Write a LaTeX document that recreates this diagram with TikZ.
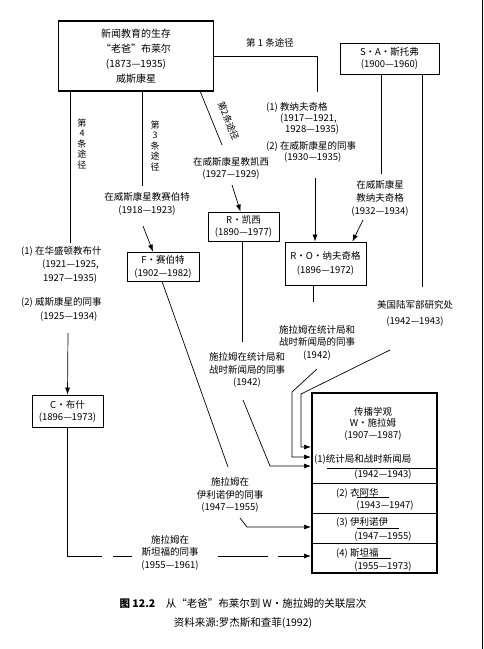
\documentclass[tikz,border=0pt]{standalone}
\usepackage{fontspec}
\setmainfont{Noto Sans CJK SC}
\usetikzlibrary{arrows.meta}

\begin{document}
\begin{tikzpicture}[x=1pt,y=1pt,yscale=-1,xscale=1,
  every node/.style={inner sep=0pt, font=\fontsize{9.5}{12.5}\selectfont},
  box/.style={draw, line width=0.8pt, align=center},
  heavybox/.style={draw, line width=1.8pt, align=center},
  lbl/.style={align=center},
  upright/.style={align=center, font=\fontsize{9}{10.5}\selectfont},
  line/.style={line width=0.7pt},
  arr/.style={-{Latex[length=7pt,width=5pt]}}]
\useasboundingbox (0,0) rectangle (484,649);

%Shape: Rectangle [Bleyer]
\node (bleyer) [heavybox, minimum width=155pt, minimum height=70pt, font=\fontsize{10}{15}\selectfont] at (136,56) {新闻教育的生存\\“老爸”布莱尔\\(1873—1935)\\威斯康星};
%Shape: Rectangle [Stouffer]
\node (stouffer) [box, minimum width=99pt, minimum height=31pt, font=\fontsize{9.5}{11.5}\selectfont] at (389.5,58.5) {S·A·斯托弗\\(1900—1960)};
%Shape: Rectangle [Casey]
\node (casey) [box, minimum width=71pt, minimum height=29pt, font=\fontsize{9.5}{12}\selectfont] at (243.5,226.5) {R·凯西\\(1890—1977)};
%Shape: Rectangle [Siebert]
\node (siebert) [box, minimum width=72pt, minimum height=29pt, font=\fontsize{9.5}{13}\selectfont] at (163,266.5) {F·赛伯特\\(1902—1982)};
%Shape: Rectangle [Nafziger]
\node (nafziger) [box, minimum width=81pt, minimum height=43pt, font=\fontsize{9.5}{14}\selectfont] at (325.5,263.5) {R·O·纳夫奇格\\(1896—1972)};
%Shape: Rectangle [Bush]
\node (bush) [box, minimum width=71pt, minimum height=32pt, font=\fontsize{9.5}{12}\selectfont] at (67.5,411) {C·布什\\(1896—1973)};

%Shape: Rectangle [Schramm]
\node (schramm) [heavybox, minimum width=125pt, minimum height=180pt] at (374.5,483) {};
% Text Node
\node (head) [lbl, font=\fontsize{9.5}{11.5}\selectfont] at (373,423.5) {传播学观\\W·施拉姆\\(1907—1987)};
% Text Node
\node (row1) [anchor=west] at (314,459) {(1)统计局和战时新闻局};
\node (row1y) at (383,475) {(1942—1943)};
\node (row2) [anchor=west] at (336,493) {(2) 衣阿华};
\node (row2y) at (385,506) {(1943—1947)};
\node (row3) [anchor=west] at (336,522) {(3) 伊利诺伊};
\node (row3y) at (383,537) {(1947—1955)};
\node (row4) [anchor=west] at (336,553) {(4) 斯坦福};
\node (row4y) at (383,567) {(1955—1973)};
%Straight Lines [dividers and underlines]
\foreach \yy in {483,513,543}
  \draw [line] (schramm.west |- 0,\yy) -- (schramm.east |- 0,\yy);
\draw [line] (327,468) -- (schramm.east |- 0,468);
\draw [line] (357,497) -- (389,497);
\draw [line] (357,528) -- (399,528);
\draw [line] (357,558) -- (391,558);
% arrow ends on the Schramm box
\coordinate (in1) at (311,447);
\coordinate (in2) at (311,457);
\coordinate (in3) at (311,466);
\coordinate (in4) at (311,527);
\coordinate (in5) at (311,556);

%Straight Lines [route 1]
\coordinate (r1end) at (317,92);
\draw [line] (bleyer.east) -| (r1end);
% Text Node
\node (r1lbl) at (270,43) {第 1 条途径};
% Text Node
\node (knapp) [anchor=north west, align=left, font=\fontsize{9.5}{11}\selectfont] at (266,102) {(1)\ 教纳夫奇格\\\hspace*{14pt}(1917—1921,\\\hspace*{19pt}1928—1935)\\[6pt](2)\ 在威斯康星的同事\\\hspace*{18pt}(1930—1935)};
\coordinate (k2) at (315,178);
\draw [line,arr] (k2) -- (nafziger.north -| k2);

%Straight Lines [route 2]
\coordinate (r2end) at (222,145);
\draw [line] ([xshift=-14pt]bleyer.south east) -- (r2end);
% Text Node
\node (r2lbl) [rotate=-68, font=\fontsize{9}{10}\selectfont] at (228.5,121) {第2条途径};
% Text Node
\node (caseytxt) [lbl] at (231,168.5) {在威斯康星教凯西\\(1927—1929)};
\coordinate (c2) at (232,185);
\draw [line,arr] (c2) -- ([xshift=-3pt]casey.north);

%Straight Lines [route 3]
\coordinate (r3end) at (142,186);
\draw [line] (bleyer.south -| r3end) -- (r3end);
% Text Node
\node (r3lbl) [upright] at (155,146) {第\\3\\条\\途\\径};
% Text Node
\node (siebtxt) [lbl] at (147,204) {在威斯康星教赛伯特\\(1918—1923)};
\coordinate (s2) at (143,226);
\draw [line,arr] (s2) -- ([xshift=-10pt]siebert.north);

%Straight Lines [route 4]
\coordinate (r4end) at (70,243);
\draw [line] (bleyer.south -| r4end) -- (r4end);
% Text Node
\node (r4lbl) [upright] at (82,144) {第\\4\\条\\途\\径};
% Text Node
\node (bushtxt) [anchor=north west, align=left, font=\fontsize{9.5}{13.5}\selectfont] at (21,246) {(1)\ 在华盛顿教布什\\\hspace*{21pt}(1921—1925,\\\hspace*{22pt}1927—1935)\\[11pt](2)\ 威斯康星的同事\\\hspace*{19pt}(1925—1934)};
\coordinate (b2) at (68,333);
\draw [line,arr] (b2) -- (bush.north);

%Straight Lines [Stouffer]
\coordinate (st1) at (381,174);
\draw [line] (stouffer.south -| st1) -- (st1);
% Text Node
\node (stnaf) [lbl, font=\fontsize{9.5}{13}\selectfont] at (380,198) {在威斯康星\\教纳夫奇格\\(1932—1934)};
\coordinate (st2) at (363,220);
\draw [line,arr] (st2) -- ([xshift=-14pt]nafziger.north east);
\coordinate (st3) at (422,287);
\draw [line] (stouffer.south -| st3) -- (st3);
% Text Node
\node (army) [lbl, font=\fontsize{9.5}{16.5}\selectfont] at (415,313.5) {美国陆军部研究处\\(1942—1943)};
\coordinate (armyout) at (390,350);
\draw [line,arr] (armyout) -- (301,394) |- (in1);

%Straight Lines [Casey]
\coordinate (ca1) at (242,342);
\draw [line] (casey.south -| ca1) -- (ca1);
% Text Node
\node (txtB) [lbl] at (247,370) {施拉姆在统计局和\\战时新闻局的同事\\(1942)};
\coordinate (Bout) at (243,400);
\draw [line,arr] (Bout) -- (270,466) -- (in3);

%Straight Lines [Nafziger]
\coordinate (n1) at (313,302);
\draw [line] (nafziger.south -| n1) -- (n1);
% Text Node
\node (txtA) [lbl] at (317,342.5) {施拉姆在统计局和\\战时新闻局的同事\\(1942)};
\coordinate (Aout) at (317,369);
\draw [line,arr] (Aout) -- (292,392) |- (in2);

%Straight Lines [Siebert]
\coordinate (sb1) at (228,467);
\draw [line] ([xshift=-1pt]siebert.south) -- (sb1);
% Text Node
\node (illtxt) [lbl] at (230,495) {施拉姆在\\伊利诺伊的同事\\(1947—1955)};
\coordinate (illout) at (240,518);
\draw [line,arr] (illout) -- (247,527) -- (in4);

%Straight Lines [Bush]
\draw [line,arr,dash pattern=on 163pt off 11pt on 19pt off 86pt on 50pt off 10pt on 60pt] (bush.south) |- (in5);
% Text Node
\node (stantxt) [lbl] at (170,552.5) {施拉姆在\\斯坦福的同事\\(1955—1961)};

% Text Node [caption]
\node (cap1) [font=\fontsize{10.5}{13}\selectfont] at (243,604) {\textbf{图 12.2}\quad 从“老爸”布莱尔到 W·施拉姆的关联层次};
\node (cap2) [font=\fontsize{10.5}{13}\selectfont] at (243,623) {资料来源:罗杰斯和查菲(1992)};

%Straight Lines [page edge]
\draw [line width=1pt] (482,0) -- (482,649);

\end{tikzpicture}
\end{document}
